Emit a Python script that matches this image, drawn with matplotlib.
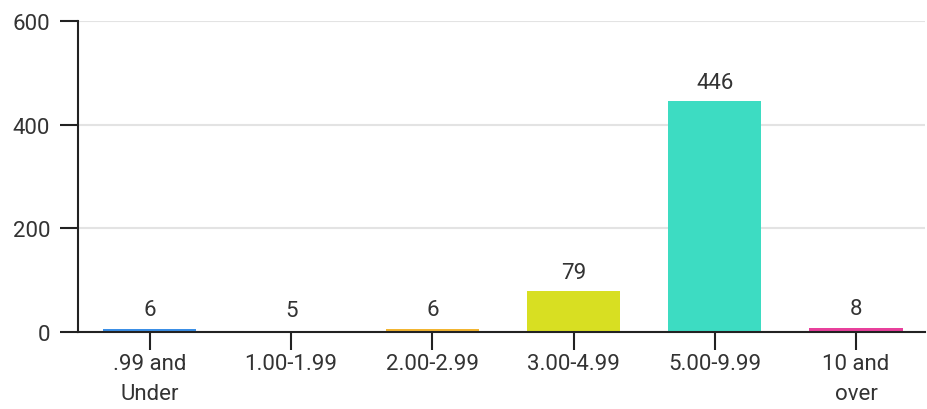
import matplotlib
matplotlib.use("Agg")
import matplotlib.pyplot as plt

# ---------------------------------------------------------------------------
# Data
# ---------------------------------------------------------------------------
categories = [".99 and\nUnder", "1.00-1.99", "2.00-2.99", "3.00-4.99", "5.00-9.99", "10 and\nover"]
counts = [6, 5, 6, 79, 446, 8]
colors = ["#3b8fe6", "#ffffff", "#f2b531", "#d8df22", "#3ddcc2", "#e8409c"]
y_ticks = [0, 200, 400, 600]

plt.rcParams["font.family"] = ["Roboto", "DejaVu Sans"]
text_color = "#333333"

fig = plt.figure(figsize=(9.27, 4.10), dpi=100)
ax = fig.add_axes([0.084, 0.188, 0.914, 0.758])

x = range(len(categories))
bars = ax.bar(x, counts, width=0.66, color=colors, zorder=3)

for xi, v in zip(x, counts):
    ax.annotate(str(v), (xi, v), xytext=(0, 6), textcoords="offset points",
                ha="center", va="bottom", fontsize=16, color=text_color)

ax.set_xlim(-0.51, 5.49)
ax.set_ylim(0, 600)
ax.set_yticks(y_ticks)
ax.set_xticks(list(x))
ax.set_xticklabels(categories, linespacing=1.6)

ax.grid(axis="y", color="#e3e3e3", lw=1.5, zorder=0)
ax.set_axisbelow(True)
for s in ["top", "right"]:
    ax.spines[s].set_visible(False)
ax.spines["left"].set_linewidth(1.5)
ax.spines["bottom"].set_linewidth(1.5)
ax.spines["left"].set_color("#222222")
ax.spines["bottom"].set_color("#222222")
ax.spines["bottom"].set_zorder(4)

ax.tick_params(axis="y", length=13, width=1.5, color="#222222",
               labelsize=16, labelcolor=text_color, pad=7)
ax.tick_params(axis="x", length=13, width=1.5, color="#222222",
               labelsize=16, labelcolor=text_color, pad=2)

fig.savefig("out.png", dpi=100)
